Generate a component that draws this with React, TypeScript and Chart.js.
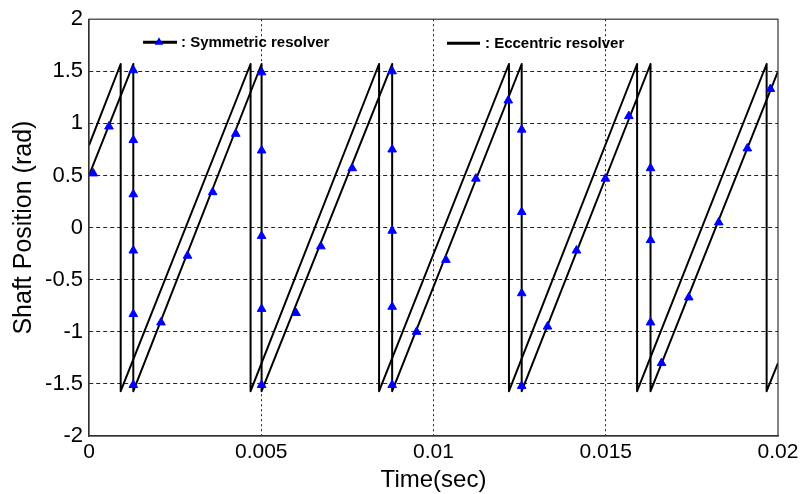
import { useEffect, useRef } from "react";
import { Chart, registerables } from "chart.js";

Chart.register(...registerables);

// ---- axis ticks ----
const xTicks = [0, 0.005, 0.01, 0.015, 0.02];
const xTickLabels = ["0", "0.005", "0.01", "0.015", "0.02"];
const yTicks = [-2, -1.5, -1, -0.5, 0, 0.5, 1, 1.5, 2];
const yTickLabels = ["-2", "-1.5", "-1", "-0.5", "0", "0.5", "1", "1.5", "2"];

// ---- eccentric resolver (solid black sawtooth, no markers) ----
const eccentricTime = [0, 0.00092, 0.00092, 0.00469, 0.00469, 0.00842, 0.00842, 0.01219, 0.01219, 0.01591, 0.01591, 0.01967, 0.01967, 0.02];
const eccentricPos = [0.79, 1.57, -1.57, 1.57, -1.57, 1.57, -1.57, 1.57, -1.57, 1.57, -1.57, 1.57, -1.57, -1.3];

// ---- symmetric resolver (black sawtooth with blue triangles) ----
const symmetricTime = [0, 0.001286, 0.001286, 0.00501, 0.00501, 0.0088, 0.0088, 0.01256, 0.01256, 0.0163, 0.0163, 0.02];
const symmetricPos = [0.5, 1.57, -1.57, 1.57, -1.57, 1.57, -1.57, 1.57, -1.57, 1.57, -1.57, 1.5];

const markerTime = [
  0.000125, 0.00058, 0.001286, 0.001286, 0.001286, 0.001286, 0.001286, 0.001286,
  0.00209, 0.00286, 0.00359, 0.00426,
  0.00501, 0.00501, 0.00501, 0.00501, 0.00501,
  0.00601, 0.00673, 0.00764,
  0.0088, 0.0088, 0.0088, 0.0088, 0.0088,
  0.00951, 0.01036, 0.01123, 0.01217,
  0.01256, 0.01256, 0.01256, 0.01256,
  0.01331, 0.01415, 0.01499, 0.01567,
  0.0163, 0.0163, 0.0163,
  0.01662, 0.01741, 0.01828, 0.01911, 0.01978,
];
const markerPos = [
  0.52, 0.97, 1.51, 0.84, 0.32, -0.22, -0.83, -1.51,
  -0.91, -0.27, 0.34, 0.9,
  1.49, 0.74, -0.08, -0.78, -1.51,
  -0.82, -0.18, 0.57,
  1.5, 0.75, -0.03, -0.76, -1.51,
  -1.0, -0.31, 0.47, 1.22,
  0.94, 0.15, -0.63, -1.52,
  -0.95, -0.22, 0.47, 1.07,
  0.57, -0.12, -0.91,
  -1.3, -0.67, 0.05, 0.76, 1.33,
];

const legendSymmetric = ": Symmetric resolver";
const legendEccentric = ": Eccentric resolver";
const xTitle = "Time(sec)";
const yTitle = "Shaft Position (rad)";

const FONT = "'Liberation Sans', Arial, Helvetica, sans-serif";

const toPoints = (xs: number[], ys: number[]) => xs.map((x, i) => ({ x, y: ys[i] }));

const framePlugin = {
  id: "frameAndLegend",
  afterDatasetsDraw(chart: any) {
    const { ctx, chartArea: a } = chart;
    ctx.save();
    ctx.strokeStyle = "#333";
    ctx.lineWidth = 1.2;
    ctx.setLineDash([]);
    ctx.strokeRect(a.left, a.top, a.right - a.left, a.bottom - a.top);

    // legend: symmetric
    const y1 = a.top + 23;
    ctx.strokeStyle = "#000";
    ctx.lineWidth = 3;
    ctx.beginPath();
    ctx.moveTo(a.left + 54, y1);
    ctx.lineTo(a.left + 88, y1);
    ctx.stroke();
    const cx = a.left + 70;
    const r = 5;
    ctx.fillStyle = "#0000ff";
    ctx.beginPath();
    ctx.moveTo(cx, y1 - r);
    ctx.lineTo(cx + r * 0.866, y1 + r * 0.5);
    ctx.lineTo(cx - r * 0.866, y1 + r * 0.5);
    ctx.closePath();
    ctx.fill();
    ctx.fillStyle = "#000";
    ctx.font = `bold 15px ${FONT}`;
    ctx.textBaseline = "middle";
    ctx.textAlign = "left";
    ctx.fillText(legendSymmetric, a.left + 92, y1 + 1);

    // legend: eccentric
    const y2 = a.top + 24;
    ctx.beginPath();
    ctx.moveTo(a.left + 358, y2);
    ctx.lineTo(a.left + 391, y2);
    ctx.stroke();
    ctx.fillText(legendEccentric, a.left + 396, y2 + 1);
    ctx.restore();
  },
};

export default function App() {
  const ref = useRef<HTMLCanvasElement | null>(null);

  useEffect(() => {
    if (!ref.current) return;
    const chart = new Chart(ref.current, {
      type: "line",
      data: {
        datasets: [
          {
            label: "Symmetric markers",
            data: toPoints(markerTime, markerPos),
            showLine: false,
            pointStyle: "triangle",
            pointRadius: 5,
            pointBackgroundColor: "#0000ff",
            pointBorderColor: "#0000ff",
            pointBorderWidth: 1,
            order: 0,
          },
          {
            label: "Symmetric resolver",
            data: toPoints(symmetricTime, symmetricPos),
            borderColor: "#000",
            borderWidth: 2,
            borderJoinStyle: "round",
            pointRadius: 0,
            tension: 0,
            order: 1,
          },
          {
            label: "Eccentric resolver",
            data: toPoints(eccentricTime, eccentricPos),
            borderColor: "#000",
            borderWidth: 2,
            borderJoinStyle: "round",
            pointRadius: 0,
            tension: 0,
            order: 2,
          },
        ],
      },
      options: {
        animation: false,
        responsive: false,
        maintainAspectRatio: false,
        devicePixelRatio: 1,
        layout: { padding: { left: 0, right: 29, top: 19, bottom: 0 } },
        plugins: {
          legend: { display: false },
          tooltip: { enabled: false },
        },
        scales: {
          x: {
            type: "linear",
            min: 0,
            max: 0.02,
            afterBuildTicks: (s: any) => {
              s.ticks = xTicks.map((v) => ({ value: v }));
            },
            afterFit: (s: any) => {
              s.height = 58;
            },
            ticks: {
              autoSkip: false,
              maxRotation: 0,
              padding: 4,
              color: "#000",
              font: { family: FONT, size: 21 },
              callback: (v: any) => {
                const i = xTicks.findIndex((t) => Math.abs(t - Number(v)) < 1e-9);
                return i >= 0 ? xTickLabels[i] : "";
              },
            },
            grid: {
              drawTicks: false,
              color: (c: any) =>
                c.index === 0 || c.index === xTicks.length - 1 ? "rgba(0,0,0,0)" : "#222",
              lineWidth: 1,
            },
            border: { display: true, color: "#333", width: 1.2, dash: [2, 3] },
            title: {
              display: true,
              text: xTitle,
              color: "#000",
              font: { family: FONT, size: 24 },
              padding: { top: 0, bottom: -1 },
            },
          },
          y: {
            type: "linear",
            min: -2,
            max: 2,
            afterBuildTicks: (s: any) => {
              s.ticks = yTicks.map((v) => ({ value: v }));
            },
            afterFit: (s: any) => {
              s.width = 89;
            },
            ticks: {
              autoSkip: false,
              padding: 6,
              color: "#000",
              font: { family: FONT, size: 22 },
              callback: (v: any) => {
                const i = yTicks.findIndex((t) => Math.abs(t - Number(v)) < 1e-9);
                return i >= 0 ? yTickLabels[i] : "";
              },
            },
            grid: {
              drawTicks: false,
              color: (c: any) =>
                c.index === 0 || c.index === yTicks.length - 1 ? "rgba(0,0,0,0)" : "#222",
              lineWidth: 1,
            },
            border: { display: true, color: "#333", width: 1.2, dash: [4, 3] },
            title: {
              display: true,
              text: yTitle,
              color: "#000",
              font: { family: FONT, size: 25 },
              padding: { top: 9, bottom: 0 },
            },
          },
        },
      },
      plugins: [framePlugin],
    });
    return () => chart.destroy();
  }, []);

  return (
    <div style={{ position: "absolute", left: 0, top: 0, width: 807, height: 494, background: "#fff" }}>
      <canvas ref={ref} width={807} height={494} style={{ width: 807, height: 494, display: "block" }} />
    </div>
  );
}
